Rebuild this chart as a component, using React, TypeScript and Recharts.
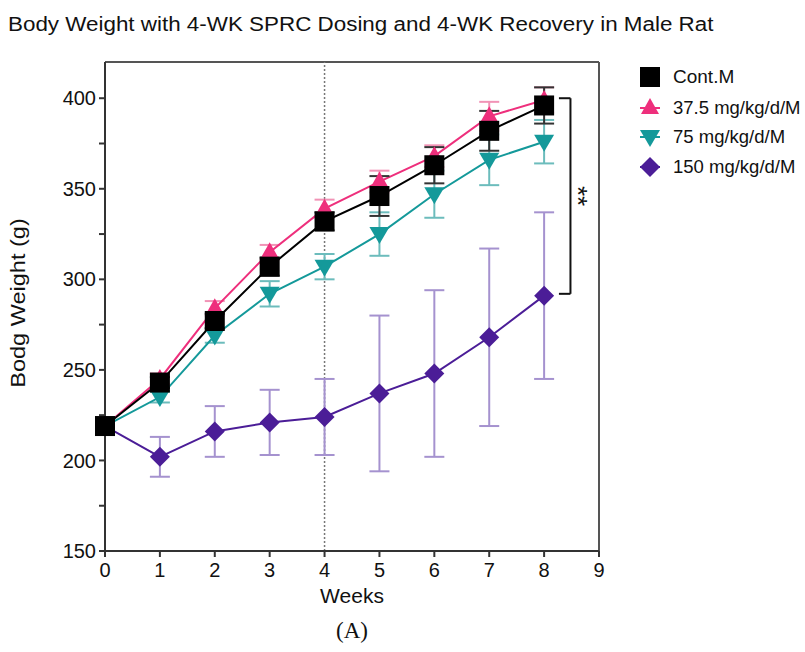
import { LineChart, Line, XAxis, YAxis, ErrorBar, ReferenceLine } from 'recharts'

const WEEKS = [0, 1, 2, 3, 4, 5, 6, 7, 8]
const CONT_MEAN = [219, 243, 277, 307, 332, 346, 363, 382, 396]
const CONT_SD = [0, 3, 4, 5, 5, 11, 10, 11, 10]
const LOW_MEAN = [219, 245, 284, 315, 339, 354, 368, 390, 399]
const LOW_SD = [0, 3, 4, 4, 5, 6, 6, 8, 7]
const MID_MEAN = [219, 235, 269, 292, 307, 325, 347, 366, 376]
const MID_SD = [0, 3, 4, 7, 7, 12, 13, 14, 12]
const HIGH_MEAN = [219, 202, 216, 221, 224, 237, 248, 268, 291]
const HIGH_SD = [0, 11, 14, 18, 21, 43, 46, 49, 46]

const X_TICKS = [0, 1, 2, 3, 4, 5, 6, 7, 8, 9]
const Y_TICKS = [150, 175, 200, 225, 250, 275, 300, 325, 350, 375, 400]

const C = {
  axis: '#333', cont: '#000', low: '#ee2f7c', mid: '#14999a', high: '#4b1d97',
  lowErr: '#f193b6', midErr: '#6cbcbc', highErr: '#a592cf', contErr: '#333',
}
const FONT = '"Liberation Sans", Arial, sans-serif'

const data = WEEKS.map((w, i) => ({
  week: w,
  cont: CONT_MEAN[i], contSd: CONT_SD[i],
  low: LOW_MEAN[i], lowSd: LOW_SD[i],
  mid: MID_MEAN[i], midSd: MID_SD[i],
  high: HIGH_MEAN[i], highSd: HIGH_SD[i],
}))

type Shape = 'square' | 'up' | 'down' | 'diamond'

function marker(shape: Shape, cx: number, cy: number, fill: string, key?: any) {
  if (shape === 'square') return <rect key={key} x={cx - 10} y={cy - 10} width={20} height={20} fill={fill} />
  if (shape === 'up') return <polygon key={key} points={`${cx},${cy - 10} ${cx - 9},${cy + 6} ${cx + 9},${cy + 6}`} fill={fill} />
  if (shape === 'down') return <polygon key={key} points={`${cx - 10},${cy - 7} ${cx + 10},${cy - 7} ${cx},${cy + 10}`} fill={fill} />
  return <polygon key={key} points={`${cx},${cy - 10} ${cx + 10},${cy} ${cx},${cy + 10} ${cx - 10},${cy}`} fill={fill} />
}

const dotFor = (shape: Shape, fill: string) => (p: any) => marker(shape, p.cx, p.cy, fill, `${shape}-${p.index}`)

const LEGEND = [
  { label: 'Cont.M', shape: 'square' as Shape, color: C.cont, size: 19 },
  { label: '37.5 mg/kg/d/M', shape: 'up' as Shape, color: C.low, size: 18.5 },
  { label: '75 mg/kg/d/M', shape: 'down' as Shape, color: C.mid, size: 18.5 },
  { label: '150 mg/kg/d/M', shape: 'diamond' as Shape, color: C.high, size: 18.5 },
]

// "**" written sideways next to the bracket
const Stars = (props: any) => {
  const vb = props.viewBox || {}
  const x = (vb.x ?? 0) + 8
  const y = (vb.y ?? 0) + (vb.height ?? 0) / 2
  return (
    <text x={x} y={y} fontFamily={FONT} fontSize={26} fill="#111" textAnchor="middle"
      dominantBaseline="central" transform={`rotate(90 ${x} ${y})`}>**</text>
  )
}

export default function App() {
  const tick = { fontSize: 20, fill: '#111', fontFamily: FONT }
  return (
    <div style={{ position: 'relative', width: 805, height: 652, background: '#fff', fontFamily: FONT }}>
      <style>{`body{margin:0}`}</style>

      <div style={{ position: 'absolute', left: 8, top: 13, fontSize: 20, color: '#111', whiteSpace: 'nowrap', transformOrigin: 'left top', transform: 'scaleX(1.12)' }}>
        Body Weight with 4-WK SPRC Dosing and 4-WK Recovery in Male Rat
      </div>

      <LineChart width={805} height={652} data={data} margin={{ top: 62, right: 206, bottom: 71, left: 55 }}>
        <XAxis dataKey="week" type="number" domain={[0, 9]} ticks={X_TICKS} height={30}
          tick={tick} tickSize={6} tickMargin={6} interval={0}
          axisLine={{ stroke: C.axis, strokeWidth: 2 }} tickLine={{ stroke: C.axis, strokeWidth: 2 }} />
        <YAxis type="number" domain={[150, 420]} ticks={Y_TICKS} width={50} allowDataOverflow
          tick={tick} tickSize={6} tickMargin={3} interval={0}
          tickFormatter={(v: number) => (v % 50 === 0 ? String(v) : '')}
          axisLine={{ stroke: C.axis, strokeWidth: 2 }} tickLine={{ stroke: C.axis, strokeWidth: 2 }} />

        <ReferenceLine y={420} stroke="#555" strokeWidth={2} />
        <ReferenceLine x={9} stroke="#555" strokeWidth={2} />
        <ReferenceLine x={4} stroke="#777" strokeWidth={1.5} strokeDasharray="2 2" />

        <ReferenceLine segment={[{ x: 8.27, y: 400 }, { x: 8.48, y: 400 }]} stroke="#111" strokeWidth={2} />
        <ReferenceLine segment={[{ x: 8.27, y: 292 }, { x: 8.48, y: 292 }]} stroke="#111" strokeWidth={2} />
        <ReferenceLine segment={[{ x: 8.48, y: 400 }, { x: 8.48, y: 292 }]} stroke="#111" strokeWidth={2} label={<Stars />} />

        <Line dataKey="high" stroke={C.high} strokeWidth={2} dot={dotFor('diamond', C.high)} isAnimationActive={false}>
          <ErrorBar dataKey="highSd" direction="y" width={10} stroke={C.highErr} strokeWidth={2} isAnimationActive={false} />
        </Line>
        <Line dataKey="mid" stroke={C.mid} strokeWidth={2} dot={dotFor('down', C.mid)} isAnimationActive={false}>
          <ErrorBar dataKey="midSd" direction="y" width={10} stroke={C.midErr} strokeWidth={2} isAnimationActive={false} />
        </Line>
        <Line dataKey="low" stroke={C.low} strokeWidth={2} dot={dotFor('up', C.low)} isAnimationActive={false}>
          <ErrorBar dataKey="lowSd" direction="y" width={10} stroke={C.lowErr} strokeWidth={2} isAnimationActive={false} />
        </Line>
        <Line dataKey="cont" stroke={C.cont} strokeWidth={2} dot={dotFor('square', C.cont)} isAnimationActive={false}>
          <ErrorBar dataKey="contSd" direction="y" width={10} stroke={C.contErr} strokeWidth={2} isAnimationActive={false} />
        </Line>
      </LineChart>

      <div style={{ position: 'absolute', left: 638, top: 61 }}>
        {LEGEND.map((l, i) => (
          <div key={l.label} style={{ display: 'flex', alignItems: 'center', height: i === 0 ? 32 : 29.5 }}>
            <svg width={24} height={24} style={{ marginRight: 11 }}>
              {l.shape !== 'square' && <line x1={2} x2={22} y1={12} y2={12} stroke={l.color} strokeWidth={2} />}
              {marker(l.shape, 12, 12, l.color)}
            </svg>
            <span style={{ fontSize: l.size, color: '#111', whiteSpace: 'nowrap' }}>{l.label}</span>
          </div>
        ))}
      </div>

      <div style={{ position: 'absolute', left: 352, top: 584, transform: 'translateX(-50%)', fontSize: 21, color: '#111' }}>Weeks</div>

      <div style={{ position: 'absolute', left: 18, top: 303, transform: 'translate(-50%, -50%) rotate(-90deg) scaleX(1.12)', fontSize: 21, color: '#111', whiteSpace: 'nowrap' }}>
        Bodg Weight (g)
      </div>

      <div style={{ position: 'absolute', left: 352, top: 618, transform: 'translateX(-50%)', fontSize: 23, fontFamily: '"Liberation Serif", "Times New Roman", serif', color: '#111' }}>(A)</div>
    </div>
  )
}
